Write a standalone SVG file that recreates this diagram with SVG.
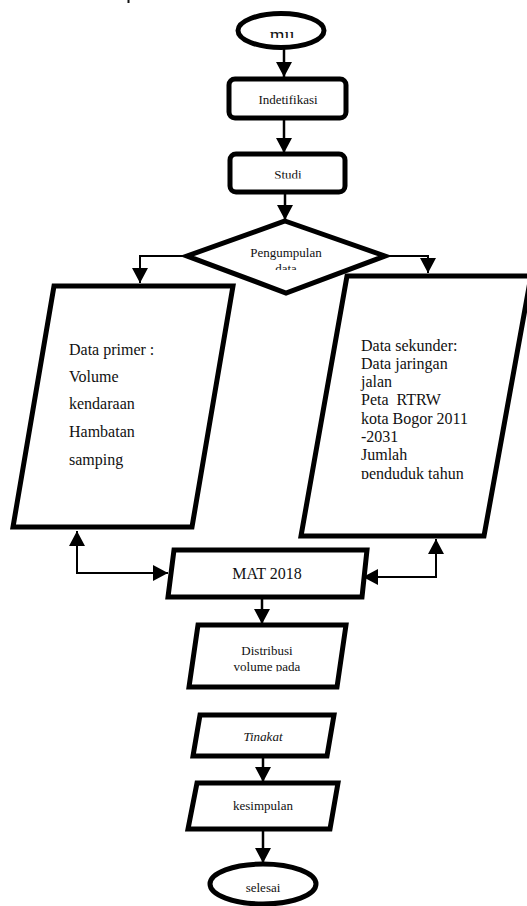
<svg xmlns="http://www.w3.org/2000/svg" width="527" height="906" viewBox="0 0 527 906">
<style>
.shape{fill:#fff;stroke:#000;stroke-width:5;stroke-linejoin:miter}
.conn{fill:none;stroke:#000;stroke-width:2.5}
.thin{fill:none;stroke:#000;stroke-width:2}
text{font-family:"Liberation Serif","Times New Roman",serif;fill:#111}
.s13{font-size:13px;text-anchor:middle}
.s16{font-size:16px}
</style>
<defs>
<marker id="ah" markerUnits="userSpaceOnUse" markerWidth="16" markerHeight="16" viewBox="0 0 16 16" refX="15" refY="8" orient="auto">
<path d="M0,0 L15,8 L0,16 Z" fill="#000"/>
</marker>
<clipPath id="c-mu"><rect x="200" y="0" width="170" height="38"/></clipPath>
<clipPath id="c-studi"><rect x="200" y="150" width="170" height="28.5"/></clipPath>
<clipPath id="c-data"><rect x="200" y="230" width="170" height="40"/></clipPath>
<clipPath id="c-sek"><rect x="340" y="280" width="180" height="199"/></clipPath>
<clipPath id="c-dist"><rect x="190" y="630" width="150" height="41.5"/></clipPath>
<clipPath id="c-ting"><rect x="190" y="715" width="150" height="26"/></clipPath>
</defs>
<rect x="127.5" y="0" width="2" height="3" fill="#111"/>
<g id="connectors">
<line class="conn" x1="284" y1="48" x2="284" y2="77" marker-end="url(#ah)"/>
<line class="conn" x1="284" y1="118" x2="284" y2="153" marker-end="url(#ah)"/>
<line class="conn" x1="285" y1="192" x2="285" y2="220" marker-end="url(#ah)"/>
<polyline class="thin" points="187,256 140,256 140,283" marker-end="url(#ah)"/>
<polyline class="thin" points="385,256 428,256 428,273" marker-end="url(#ah)"/>
<polyline class="thin" points="168,573 77,573 77,531" marker-end="url(#ah)"/>
<polyline class="thin" points="77,573 168,573" marker-end="url(#ah)"/>
<polyline class="thin" points="363,577 436,577 436,539" marker-end="url(#ah)"/>
<polyline class="thin" points="436,577 363,577" marker-end="url(#ah)"/>
<line class="conn" x1="262" y1="598" x2="262" y2="624" marker-end="url(#ah)"/>
<line class="conn" x1="263" y1="757" x2="263" y2="782" marker-end="url(#ah)"/>
<line class="conn" x1="263" y1="830" x2="263" y2="863" marker-end="url(#ah)"/>
</g>
<g id="mulai">
<ellipse class="shape" cx="281" cy="30.5" rx="43" ry="17"/>
<text x="282" y="41" font-size="19" text-anchor="middle" clip-path="url(#c-mu)">mu</text>
</g>
<g id="indetifikasi">
<rect class="shape" x="229" y="79" width="117" height="39" rx="6"/>
<text class="s13" x="288" y="104">Indetifikasi</text>
</g>
<g id="studi">
<rect class="shape" x="230" y="154" width="115" height="38" rx="6"/>
<text class="s13" x="288" y="179" clip-path="url(#c-studi)">Studi</text>
</g>
<g id="pengumpulan">
<polygon class="shape" points="285,221 385,256 286,293 187,256"/>
<text class="s13" x="286" y="257">Pengumpulan</text>
<text class="s13" x="286" y="272.5" clip-path="url(#c-data)">data</text>
</g>
<g id="data-primer">
<polygon class="shape" points="54,286 233,286 192,527 13,527"/>
<text class="s16" x="69" y="355">Data primer :</text>
<text class="s16" x="69" y="382">Volume</text>
<text class="s16" x="69" y="409">kendaraan</text>
<text class="s16" x="69" y="437">Hambatan</text>
<text class="s16" x="69" y="465">samping</text>
</g>
<g id="data-sekunder">
<polygon class="shape" points="347,276 531,276 484,536 301,536"/>
<g clip-path="url(#c-sek)">
<text class="s16" x="361" y="351">Data sekunder:</text>
<text class="s16" x="361" y="369">Data jaringan</text>
<text class="s16" x="361" y="387">jalan</text>
<text class="s16" x="361" y="405" xml:space="preserve">Peta  RTRW</text>
<text class="s16" x="361" y="424">kota Bogor 2011</text>
<text class="s16" x="361" y="442">-2031</text>
<text class="s16" x="361" y="460">Jumlah</text>
<text class="s16" x="361" y="479">penduduk tahun</text>
</g>
</g>
<g id="mat-2018">
<polygon class="shape" points="174,550 367,550 362,597 168,597"/>
<text class="s16" x="267" y="579" text-anchor="middle">MAT 2018</text>
</g>
<g id="distribusi">
<polygon class="shape" points="198,625 346,625 337,687 189,687"/>
<text class="s13" x="267" y="655">Distribusi</text>
<text class="s13" x="267" y="671" clip-path="url(#c-dist)">volume pada</text>
</g>
<g id="tingkat">
<polygon class="shape" points="200,715 334,715 327,756 193,756"/>
<text class="s13" x="263" y="741" font-style="italic" clip-path="url(#c-ting)">Tingkat</text>
</g>
<g id="kesimpulan">
<polygon class="shape" points="197,783 338,783 330,829 188,829"/>
<text class="s13" x="263" y="810">kesimpulan</text>
</g>
<g id="selesai">
<ellipse class="shape" cx="263" cy="884" rx="53" ry="20"/>
<text class="s13" x="263" y="892">selesai</text>
</g>
</svg>
